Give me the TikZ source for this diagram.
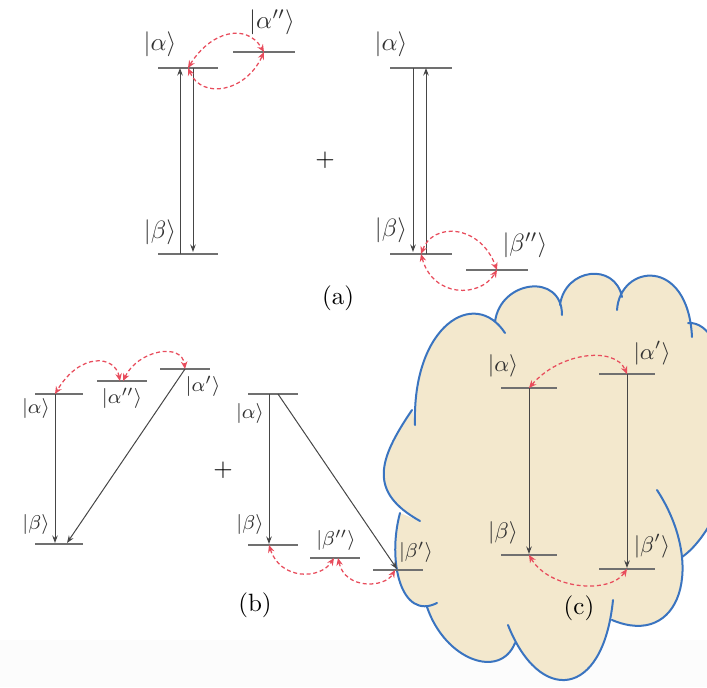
\documentclass[tikz,border=0pt]{standalone}
\usepackage{amsmath, amssymb}
\usepackage{tikz}
\usetikzlibrary{arrows.meta, calc}
\definecolor{hop}{RGB}{232,76,92}
\definecolor{lvlgray}{RGB}{112,112,112}
\definecolor{arrgray}{RGB}{70,70,70}
\definecolor{cloudfill}{RGB}{243,232,205}
\definecolor{cloudedge}{RGB}{58,116,192}
\tikzset{
  >=Stealth,
  level/.style    = {draw=lvlgray, line width=0.6pt},
  trans/.style    = {-{Stealth[length=3pt, width=2.2pt]}, draw=arrgray, line width=0.4pt},
  hopping/.style  = {{Stealth[length=3pt, width=2.6pt]}-{Stealth[length=3pt, width=2.6pt]},
                     draw=hop, line width=0.5pt, dash pattern=on 1.6pt off 1.1pt},
  ket/.style      = {font=\normalsize, inner sep=1pt, text=black!80},
  ketb/.style     = {ket, font=\footnotesize},
  ketc/.style     = {ket, font=\small},
  tag/.style      = {font=\normalsize, inner sep=1pt},
  puff/.style     = {draw=cloudedge, line width=0.8pt, line cap=round},
}
% level: name, centre, half width
\newcommand{\lvl}[3]{%
  \coordinate (#1) at (#2);
  \draw[level] ($(#1)+(-#3,0)$) -- ($(#1)+(#3,0)$);}
% the puffs of the cloud, clockwise from the upper left
\newcommand{\puffA}{(415,425) .. controls (412,325) and (475,287) .. (505,333)}
\newcommand{\puffB}{(495,322) .. controls (500,280) and (562,272) .. (562,315)}
\newcommand{\puffC}{(560,305) .. controls (565,268) and (615,262) .. (622,297)}
\newcommand{\puffD}{(617,310) .. controls (620,264) and (688,256) .. (692,337)}
\newcommand{\puffE}{(688,323) .. controls (730,320) and (740,440) .. (712,450)}
\newcommand{\puffF}{(712,440) .. controls (745,470) and (710,538) .. (682,557)}
\newcommand{\puffG}{(657,490) .. controls (706,565) and (681,649) .. (612,620)}
\newcommand{\puffH}{(613,600) .. controls (603,700) and (539,704) .. (508,625)}
\newcommand{\puffI}{(515,643) .. controls (500,680) and (445,660) .. (427,607)}
\newcommand{\puffJ}{(437,603) .. controls (401,621) and (387,561) .. (400,513)}
\newcommand{\puffK}{(420,521) .. controls (368,492) and (378,460) .. (412,410)}

\begin{document}
\begin{tikzpicture}[x=0.4pt, y=-0.4pt]
  \useasboundingbox (0,0) rectangle (707,687);
  \fill[black!1] (0,640) rectangle (707,687);

  % ---------- cloud behind (c) ---------------------------------------
  \fill[cloudfill] \puffA -- \puffB -- \puffC -- \puffD -- \puffE -- \puffF
    -- \puffG -- \puffH -- \puffI -- \puffJ -- \puffK -- cycle;
  \draw[puff] \puffA \puffB \puffC \puffD \puffE \puffF
    \puffG \puffH \puffI \puffJ \puffK;

  % ---------- (a) left -----------------------------------------------
  \lvl{aA}{188,68}{30}
  \lvl{aApp}{264,52}{31}
  \lvl{aB}{188,254}{30}
  \node[ket] (kaA)   at (160,44)  {$|\alpha\rangle$};
  \node[ket] (kaApp) at (272,22)  {$|\alpha''\rangle$};
  \node[ket] (kaB)   at (160,232) {$|\beta\rangle$};
  \draw[trans] ($(aB)+(-8,0)$) -- ($(aA)+(-8,0)$);
  \draw[trans] ($(aA)+(5,0)$) -- ($(aB)+(5,-2)$);
  \draw[hopping] (aA) .. controls +(22,-36) and +(-18,-30) .. (aApp);
  \draw[hopping] (aA) .. controls +(14,32) and +(-18,40) .. (aApp);

  \node (plusa) at (325,160) {$+$};

  % ---------- (a) right ----------------------------------------------
  \lvl{aA2}{421,68}{31}
  \lvl{aB2}{421,254}{31}
  \lvl{aBpp}{497,270}{31}
  \node[ket] (kaA2)  at (391,44)  {$|\alpha\rangle$};
  \node[ket] (kaB2)  at (391,230) {$|\beta\rangle$};
  \node[ket] (kaBpp) at (525,245) {$|\beta''\rangle$};
  \draw[trans] ($(aA2)+(-8,0)$) -- ($(aB2)+(-8,-2)$);
  \draw[trans] ($(aB2)+(5,0)$) -- ($(aA2)+(5,0)$);
  \draw[hopping] (aB2) .. controls +(12,-32) and +(-17,-46) .. (aBpp);
  \draw[hopping] (aB2) .. controls +(12,44) and +(-17,28) .. (aBpp);

  \node[tag] (taga) at (338,298) {(a)};

  % ---------- (b) left -----------------------------------------------
  \lvl{bA}{59,394}{24}
  \lvl{bApp}{122,381}{25}
  \lvl{bAp}{185,369}{25}
  \lvl{bB}{59,544}{24}
  \node[ketb] (kbA)   at (36,408)  {$|\alpha\rangle$};
  \node[ketb] (kbApp) at (122,398) {$|\alpha''\rangle$};
  \node[ketb] (kbAp)  at (203,386) {$|\alpha'\rangle$};
  \node[ketb] (kbB)   at (36,524)  {$|\beta\rangle$};
  \draw[trans] ($(bA)+(-4,0)$) -- ($(bB)+(-4,-1)$);
  \draw[trans] (bAp) -- ($(bB)+(8,-1)$);
  \draw[hopping] ($(bApp)+(-2,0)$) .. controls +(-5,-26) and +(25,-42) .. ($(bA)+(-4,0)$);
  \draw[hopping] ($(bApp)+(1,0)$) .. controls +(15,-31) and +(-3,-27) .. (bAp);

  \node (plusb) at (223,470) {$+$};

  % ---------- (b) right ----------------------------------------------
  \lvl{bA2}{273,394}{25}
  \lvl{bB2}{273,545}{25}
  \lvl{bBpp}{335,558}{25}
  \lvl{bBp}{398,570}{25}
  \node[ketb] (kbA2)  at (250,413) {$|\alpha\rangle$};
  \node[ketb] (kbB2)  at (250,524) {$|\beta\rangle$};
  \node[ketb] (kbBpp) at (336,540) {$|\beta''\rangle$};
  \node[ketb] (kbBp)  at (416,552) {$|\beta'\rangle$};
  \draw[trans] ($(bA2)+(-4,0)$) -- ($(bB2)+(-4,-1)$);
  \draw[trans] ($(bA2)+(5,0)$) -- ($(bBp)+(-1,-1)$);
  \draw[hopping] ($(bB2)+(-4,0)$) .. controls +(11,35) and +(-14,22) .. ($(bBpp)+(-1,0)$);
  \draw[hopping] ($(bBpp)+(3,0)$) .. controls +(7,32) and +(-10,18) .. ($(bBp)+(-3,0)$);

  \node[tag] (tagb) at (255,605) {(b)};

  % ---------- (c) inside the cloud -----------------------------------
  \lvl{cA}{529,388}{28}
  \lvl{cAp}{627,374}{28}
  \lvl{cB}{529,555}{28}
  \lvl{cBp}{627,569}{28}
  \node[ketc] (kcA)  at (503,366) {$|\alpha\rangle$};
  \node[ketc] (kcAp) at (652,353) {$|\alpha'\rangle$};
  \node[ketc] (kcB)  at (503,533) {$|\beta\rangle$};
  \node[ketc] (kcBp) at (652,546) {$|\beta'\rangle$};
  \draw[trans] (cA) -- ($(cB)+(0,-1)$);
  \draw[trans] (cAp) -- ($(cBp)+(0,-1)$);
  \draw[hopping] (cA) .. controls +(31,-36) and +(-12,-28) .. (cAp);
  \draw[hopping] (cB) .. controls +(21,35) and +(-17,25) .. (cBp);

  \node[tag] (tagc) at (579,608) {(c)};
\end{tikzpicture}
\end{document}
